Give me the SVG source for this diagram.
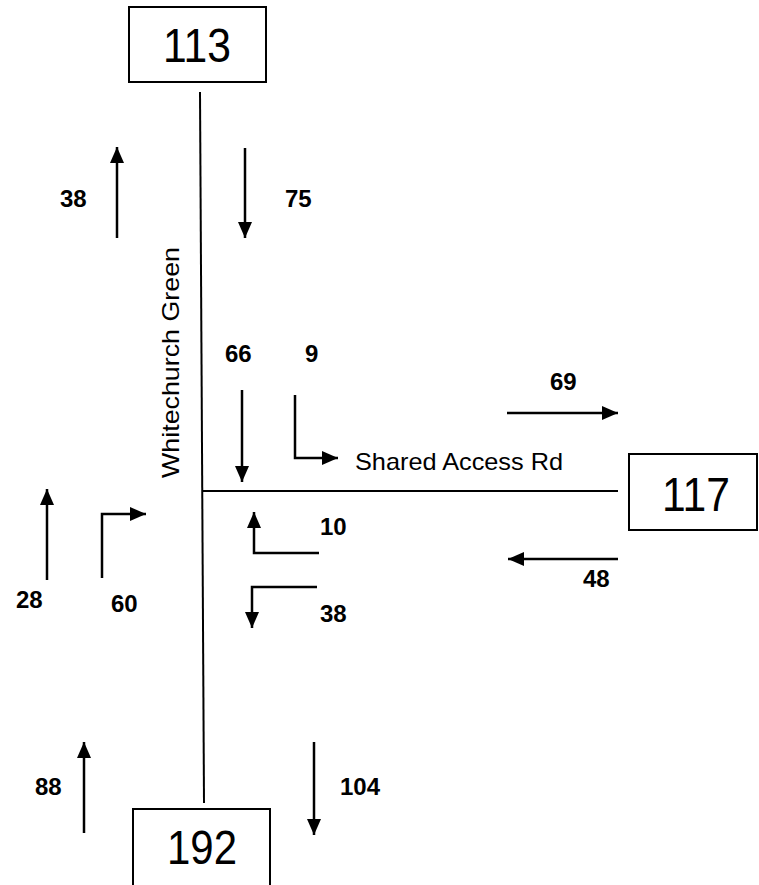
<svg xmlns="http://www.w3.org/2000/svg" width="759" height="885" viewBox="0 0 759 885">
<style>
.box{fill:#fff;stroke:#000;stroke-width:2}
.num{font-family:"Liberation Sans",Arial,sans-serif;font-size:49px;text-anchor:middle;fill:#000}
.lbl{font-family:"Liberation Sans",Arial,sans-serif;font-size:24px;font-weight:bold;fill:#000}
.road{font-family:"Liberation Sans",Arial,sans-serif;font-size:24px;fill:#000}
.rd{stroke:#000;stroke-width:2;fill:none}
.arr{stroke:#000;stroke-width:2.5;fill:none;marker-end:url(#ah)}
</style>
<defs>
<marker id="ah" markerUnits="userSpaceOnUse" markerWidth="17" markerHeight="15" refX="16" refY="7" orient="auto">
<path d="M0,0 L16,7 L0,14 z" fill="#000"/>
</marker>
</defs>
<rect width="759" height="885" fill="#fff"/>
<g id="connectors">
<path class="rd" d="M200,92 L204,803"/>
<path class="rd" d="M203,491 L618,491"/>
<path class="arr" d="M117,238 L117,147"/>
<path class="arr" d="M245,148 L245,238"/>
<path class="arr" d="M242,390 L242,482"/>
<path class="arr" d="M295,395 L295,458 L338,458"/>
<path class="arr" d="M507,413 L618,413"/>
<path class="arr" d="M618,559 L508,559"/>
<path class="arr" d="M47,580 L47,489"/>
<path class="arr" d="M102,578 L102,514 L146,514"/>
<path class="arr" d="M319,553 L254,553 L254,512"/>
<path class="arr" d="M317,587 L252,587 L252,628"/>
<path class="arr" d="M84,833 L84,742"/>
<path class="arr" d="M314,742 L314,835"/>
</g>
<g id="labels">
<text class="lbl" x="60" y="207">38</text>
<text class="lbl" x="285" y="207">75</text>
<text class="lbl" x="225" y="362">66</text>
<text class="lbl" x="305" y="362">9</text>
<text class="lbl" x="550" y="390">69</text>
<text class="lbl" x="583" y="587">48</text>
<text class="lbl" x="16" y="608">28</text>
<text class="lbl" x="111" y="612">60</text>
<text class="lbl" x="320" y="535">10</text>
<text class="lbl" x="320" y="622">38</text>
<text class="lbl" x="35" y="795">88</text>
<text class="lbl" x="340" y="795">104</text>
<text class="road" transform="translate(179,478) rotate(-90)" x="0" y="0" textLength="231" lengthAdjust="spacingAndGlyphs">Whitechurch Green</text>
<text class="road" x="355" y="470" textLength="208" lengthAdjust="spacingAndGlyphs">Shared Access Rd</text>
</g>
<g id="node-113">
<rect class="box" x="129" y="7" width="137" height="75"/>
<text class="num" x="197" y="62" textLength="68" lengthAdjust="spacingAndGlyphs">113</text>
</g>
<g id="node-117">
<rect class="box" x="629" y="454" width="128" height="76"/>
<text class="num" x="696" y="511" textLength="68" lengthAdjust="spacingAndGlyphs">117</text>
</g>
<g id="node-192">
<rect class="box" x="133" y="809" width="137" height="85"/>
<text class="num" x="202" y="864" textLength="70" lengthAdjust="spacingAndGlyphs">192</text>
</g>
</svg>
